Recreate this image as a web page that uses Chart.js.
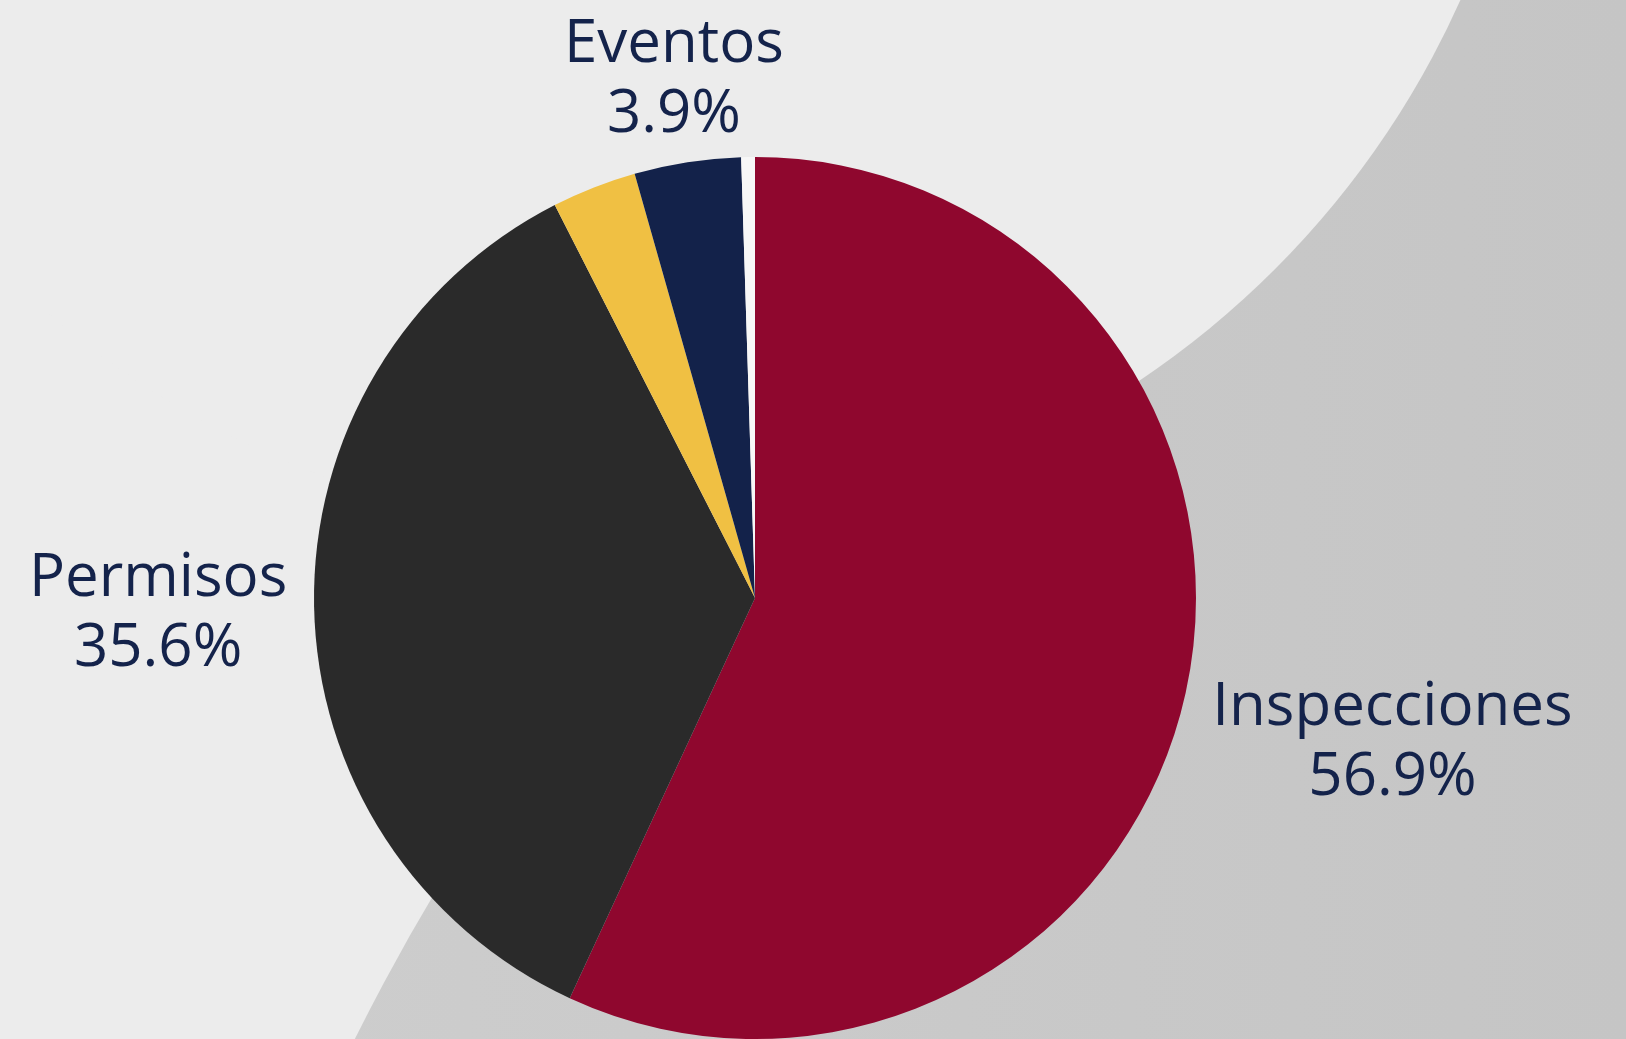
<!DOCTYPE html>
<html>
<head>
<meta charset="utf-8">
<script src="https://cdn.jsdelivr.net/npm/chart.js@4"></script>
<style>
  html, body { margin: 0; padding: 0; background: #ececec; overflow: hidden; }
  #wrap { position: relative; width: 1626px; height: 1039px; }
  #bg, #grafico { position: absolute; left: 0; top: 0; }
</style>
</head>
<body>
<div id="wrap">
  <canvas id="bg" width="1626" height="1039"></canvas>
  <canvas id="grafico" width="1626" height="1039"></canvas>
</div>
<script>
// Datos del gráfico
const categorias = ['Inspecciones', 'Permisos', 'Otros', 'Eventos', 'Sin clasificar'];
const porcentajes = [56.9, 35.6, 3.1, 3.9, 0.5];
const colores = ['#8f072e', '#2a2a2a', '#f0c043', '#13224a', '#f7f7f7'];

// Fondo decorativo: zona clara con un gran círculo gris abajo a la derecha
function pintarFondo() {
    const c = document.getElementById('bg').getContext('2d');
    c.fillStyle = '#ececec';
    c.fillRect(0, 0, 1626, 1039);
    const g = c.createLinearGradient(300, 0, 1626, 0);
    g.addColorStop(0, '#cdcdcd');
    g.addColorStop(1, '#c5c5c5');
    c.fillStyle = g;
    c.beginPath();
    c.arc(2324, 2020, 2200, 0, Math.PI * 2);
    c.fill();
    c.fillStyle = '#ececec';
    c.beginPath();
    c.arc(638, -368, 901, 0, Math.PI * 2);
    c.fill();
}
pintarFondo();

// Etiquetas exteriores (nombre + porcentaje), centradas sobre el radio medio de cada porción
const etiquetasFuera = {
    id: 'etiquetasFuera',
    afterDatasetsDraw(chart) {
        const ctx = chart.ctx;
        const arcos = chart.getDatasetMeta(0).data;
        const lh = 70, capH = 43, gap = 26;
        ctx.save();
        ctx.font = '400 60px "Open Sans", Lato, sans-serif';
        ctx.fillStyle = '#14234b';
        ctx.textAlign = 'center';
        ctx.textBaseline = 'alphabetic';
        arcos.forEach((arc, i) => {
            if (porcentajes[i] < 3.5) return;
            const p = arc.getProps(['x', 'y', 'startAngle', 'endAngle', 'outerRadius']);
            const mid = (p.startAngle + p.endAngle) / 2;
            const dx = Math.cos(mid), dy = Math.sin(mid);
            const lineas = [categorias[i], porcentajes[i].toFixed(1) + '%'];
            const w = Math.max(...lineas.map(t => ctx.measureText(t).width));
            const h = capH + lh * (lineas.length - 1);
            const dist = p.outerRadius + gap + Math.abs(dx) * w / 2 + Math.abs(dy) * (h / 2 - 11);
            const bx = p.x + dist * dx;
            const by = p.y + dist * dy;
            const top = by - h / 2;
            lineas.forEach((t, k) => {
                ctx.fillText(t, bx, top + capH + lh * k);
            });
        });
        ctx.restore();
    }
};

new Chart(document.getElementById('grafico'), {
    type: 'pie',
    data: {
        labels: categorias,
        datasets: [{
            data: porcentajes,
            backgroundColor: colores,
            borderWidth: 0
        }]
    },
    options: {
        responsive: false,
        maintainAspectRatio: false,
        animation: false,
        layout: { padding: { left: 314, right: 430, top: 157, bottom: 0 } },
        plugins: {
            legend: { display: false },
            tooltip: { enabled: false }
        }
    },
    plugins: [etiquetasFuera]
});
</script>
</body>
</html>
